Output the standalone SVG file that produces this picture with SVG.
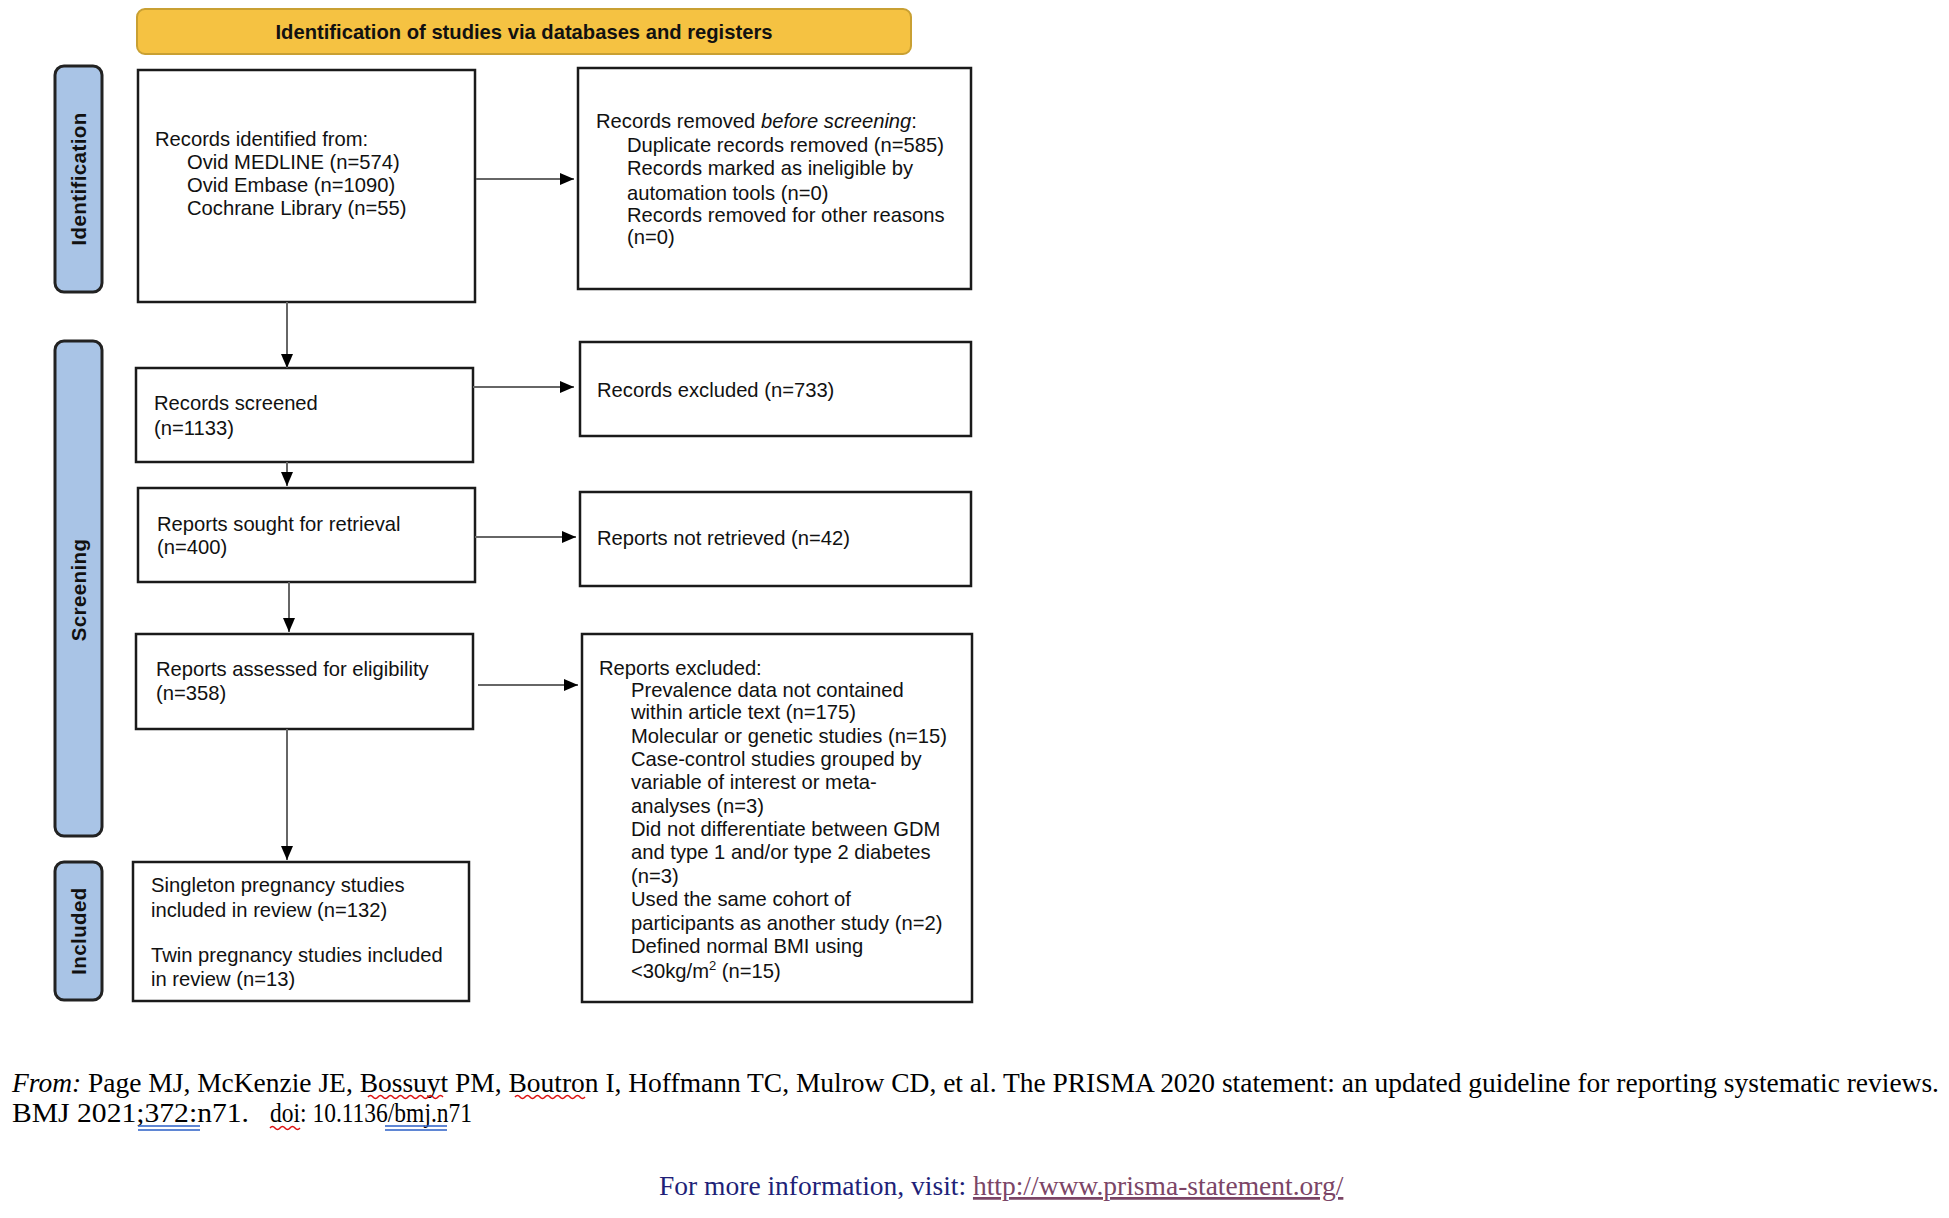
<svg xmlns="http://www.w3.org/2000/svg" width="1949" height="1218" viewBox="0 0 1949 1218">
<style>
.box{fill:#fff;stroke:#1a1a1a;stroke-width:2.5}
.bar{fill:#a9c4e6;stroke:#222;stroke-width:3}
.t{font-family:"Liberation Sans",Arial,sans-serif;font-size:20.2px;fill:#111}
.lab{font-family:"Liberation Sans",Arial,sans-serif;font-size:20.5px;font-weight:bold;fill:#111;letter-spacing:0.4px}
.hdr{font-family:"Liberation Sans",Arial,sans-serif;font-size:20.2px;font-weight:bold;fill:#111}
.ft{font-family:"Liberation Serif","Times New Roman",serif;font-size:27.5px;fill:#000}
.conn{stroke:#666;stroke-width:2;fill:none}
</style>
<defs>
<marker id="ah" markerWidth="14" markerHeight="12" refX="14" refY="6" orient="auto" markerUnits="userSpaceOnUse">
<path d="M0,0 L14,6 L0,12 Z" fill="#000"/>
</marker>
</defs>

<g id="header">
<rect x="137" y="9" width="774" height="45" rx="8" fill="#f5c242" stroke="#c9a032" stroke-width="2"/>
<text class="hdr" x="524" y="39" text-anchor="middle">Identification of studies via databases and registers</text>
</g>

<g id="bar-identification">
<rect class="bar" x="55" y="66" width="47" height="226" rx="9"/>
<text class="lab" transform="translate(86,179) rotate(-90)" text-anchor="middle">Identification</text>
</g>
<g id="bar-screening">
<rect class="bar" x="55" y="341" width="47" height="495" rx="9"/>
<text class="lab" transform="translate(86,590) rotate(-90)" text-anchor="middle">Screening</text>
</g>
<g id="bar-included">
<rect class="bar" x="55" y="862" width="47" height="138" rx="9"/>
<text class="lab" transform="translate(86,931) rotate(-90)" text-anchor="middle">Included</text>
</g>

<g id="records-identified">
<rect class="box" x="138" y="70" width="337" height="232"/>
<text class="t" x="155" y="146">Records identified from:</text>
<text class="t" x="187" y="169">Ovid MEDLINE (n=574)</text>
<text class="t" x="187" y="192">Ovid Embase (n=1090)</text>
<text class="t" x="187" y="215">Cochrane Library (n=55)</text>
</g>

<g id="records-removed">
<rect class="box" x="578" y="68" width="393" height="221"/>
<text class="t" x="596" y="128">Records removed <tspan font-style="italic">before screening</tspan>:</text>
<text class="t" x="627" y="152">Duplicate records removed (n=585)</text>
<text class="t" x="627" y="175">Records marked as ineligible by</text>
<text class="t" x="627" y="200">automation tools (n=0)</text>
<text class="t" x="627" y="222">Records removed for other reasons</text>
<text class="t" x="627" y="244">(n=0)</text>
</g>

<g id="records-screened">
<rect class="box" x="136" y="368" width="337" height="94"/>
<text class="t" x="154" y="410">Records screened</text>
<text class="t" x="154" y="435">(n=1133)</text>
</g>

<g id="records-excluded">
<rect class="box" x="580" y="342" width="391" height="94"/>
<text class="t" x="597" y="397">Records excluded (n=733)</text>
</g>

<g id="reports-sought">
<rect class="box" x="138" y="488" width="337" height="94"/>
<text class="t" x="157" y="531">Reports sought for retrieval</text>
<text class="t" x="157" y="554">(n=400)</text>
</g>

<g id="reports-not-retrieved">
<rect class="box" x="580" y="492" width="391" height="94"/>
<text class="t" x="597" y="545">Reports not retrieved (n=42)</text>
</g>

<g id="reports-assessed">
<rect class="box" x="136" y="634" width="337" height="95"/>
<text class="t" x="156" y="676">Reports assessed for eligibility</text>
<text class="t" x="156" y="700">(n=358)</text>
</g>

<g id="reports-excluded">
<rect class="box" x="582" y="634" width="390" height="368"/>
<text class="t" x="599" y="675">Reports excluded:</text>
<text class="t" x="631" y="697">Prevalence data not contained</text>
<text class="t" x="631" y="719">within article text (n=175)</text>
<text class="t" x="631" y="743">Molecular or genetic studies (n=15)</text>
<text class="t" x="631" y="766">Case-control studies grouped by</text>
<text class="t" x="631" y="789">variable of interest or meta-</text>
<text class="t" x="631" y="813">analyses (n=3)</text>
<text class="t" x="631" y="836">Did not differentiate between GDM</text>
<text class="t" x="631" y="859">and type 1 and/or type 2 diabetes</text>
<text class="t" x="631" y="883">(n=3)</text>
<text class="t" x="631" y="906">Used the same cohort of</text>
<text class="t" x="631" y="930">participants as another study (n=2)</text>
<text class="t" x="631" y="953">Defined normal BMI using</text>
<text class="t" x="631" y="978">&lt;30kg/m<tspan font-size="13" dy="-8">2</tspan><tspan dy="8"> (n=15)</tspan></text>
</g>

<g id="included">
<rect class="box" x="133" y="862" width="336" height="139"/>
<text class="t" x="151" y="892">Singleton pregnancy studies</text>
<text class="t" x="151" y="917">included in review (n=132)</text>
<text class="t" x="151" y="962">Twin pregnancy studies included</text>
<text class="t" x="151" y="986">in review (n=13)</text>
</g>

<g id="connectors">
<line class="conn" x1="476" y1="179" x2="574" y2="179" marker-end="url(#ah)"/>
<line class="conn" x1="287" y1="302" x2="287" y2="368" marker-end="url(#ah)"/>
<line class="conn" x1="473" y1="387" x2="574" y2="387" marker-end="url(#ah)"/>
<line class="conn" x1="287" y1="462" x2="287" y2="486" marker-end="url(#ah)"/>
<line class="conn" x1="475" y1="537" x2="576" y2="537" marker-end="url(#ah)"/>
<line class="conn" x1="289" y1="582" x2="289" y2="632" marker-end="url(#ah)"/>
<line class="conn" x1="478" y1="685" x2="578" y2="685" marker-end="url(#ah)"/>
<line class="conn" x1="287" y1="729" x2="287" y2="860" marker-end="url(#ah)"/>
</g>

<g id="footer">
<text class="ft" x="12" y="1092" textLength="1927" lengthAdjust="spacingAndGlyphs"><tspan font-style="italic">From:</tspan>  Page MJ, McKenzie JE, Bossuyt PM, Boutron I, Hoffmann TC, Mulrow CD, et al. The PRISMA 2020 statement: an updated guideline for reporting systematic reviews.</text>
<text class="ft" x="12" y="1122" textLength="237" lengthAdjust="spacingAndGlyphs">BMJ 2021;372:n71.</text>
<text class="ft" x="270" y="1122" textLength="202" lengthAdjust="spacingAndGlyphs">doi: 10.1136/bmj.n71</text>
<path d="M368,1097 q2.5,-3 5,0 t5,0 t5,0 t5,0 t5,0 t5,0 t5,0 t5,0 t5,0 t5,0 t5,0 t5,0 t5,0 t5,0 t5,0" fill="none" stroke="#d11" stroke-width="1.5"/>
<path d="M515,1097 q2.5,-3 5,0 t5,0 t5,0 t5,0 t5,0 t5,0 t5,0 t5,0 t5,0 t5,0 t5,0 t5,0 t5,0 t5,0" fill="none" stroke="#d11" stroke-width="1.5"/>
<path d="M270,1128 q2.5,-3 5,0 t5,0 t5,0 t5,0 t5,0 t5,0" fill="none" stroke="#d11" stroke-width="1.5"/>
<path d="M138,1126 H200 M138,1130 H200 M385,1126 H447 M385,1130 H447" fill="none" stroke="#2b5fc6" stroke-width="1.6"/>
<text x="659" y="1195" style="font-family:'Liberation Serif','Times New Roman',serif;font-size:27.5px" fill="#211f78">For more information, visit: <tspan fill="#7b4566" text-decoration="underline">http://www.prisma-statement.org/</tspan></text>
</g>
</svg>
